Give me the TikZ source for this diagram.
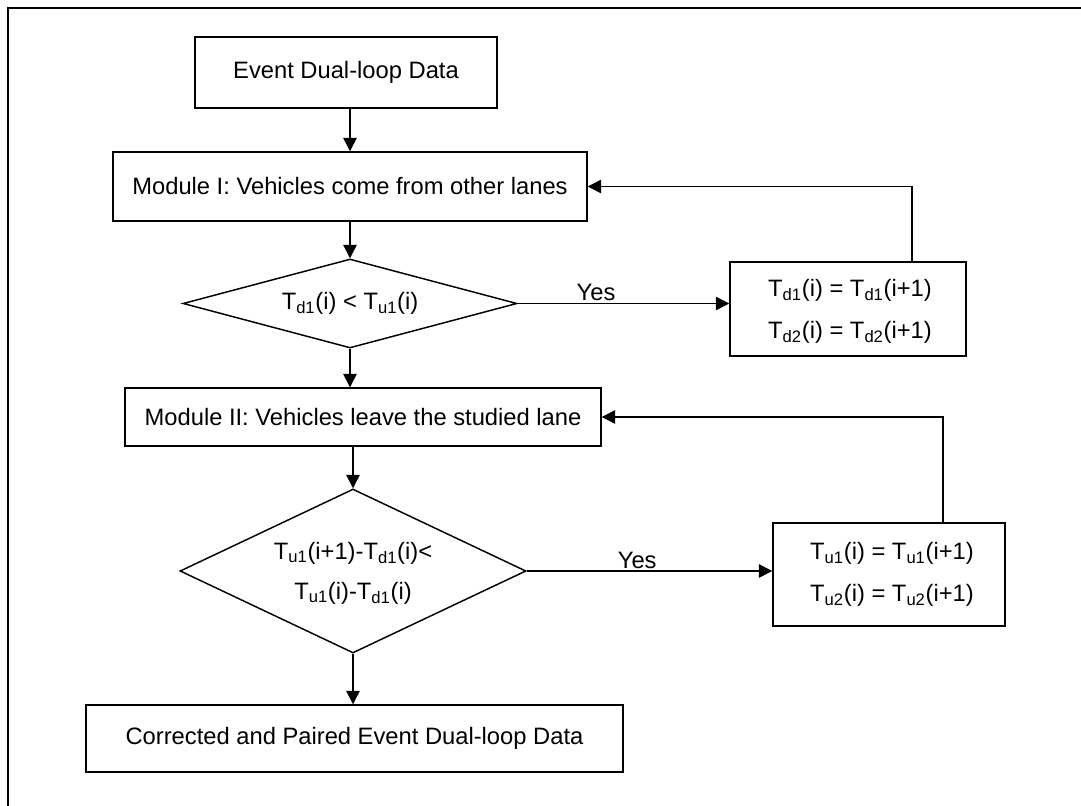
\documentclass[tikz,border=0pt]{standalone}
\usepackage{fontspec}
\setmainfont{Liberation Sans}
\usetikzlibrary{arrows.meta,shapes.geometric}
\begin{document}
\begin{tikzpicture}[x=0.75pt,y=-0.75pt,
  every node/.style={font=\fontsize{17.8}{21}\selectfont},
  box/.style={draw,line width=1.1pt,rectangle,inner sep=0pt,align=center},
  dia/.style={draw,line width=1.1pt,diamond,inner sep=0pt},
  arr/.style={line width=1.1pt,-{Triangle[length=10pt,width=10pt]}},
  ln/.style={line width=1.1pt}]
\useasboundingbox (0,0) rectangle (1081,806);
\begin{scope}
\clip (0,0) rectangle (1081,806);
\draw[line width=1.6pt] (8,8) rectangle (1200,900);
\end{scope}
\node[box,minimum width=302*0.75pt,minimum height=71*0.75pt] (b1) at (346,72.5) {Event Dual-loop Data};
\node[box,minimum width=474*0.75pt,minimum height=69*0.75pt] (b2) at (350,186.5) {Module I: Vehicles come from other lanes};
\node[dia,minimum width=334*0.75pt,minimum height=89*0.75pt,aspect=3.75] (d1) at (350,303.5) {};
\node at (d1.center) {T\textsubscript{d1}(i) < T\textsubscript{u1}(i)};
\node[box,minimum width=236*0.75pt,minimum height=94*0.75pt] (b3) at (848,309) {};
\node at ([xshift=2*0.75pt,yshift=19*0.75pt]b3.center) {T\textsubscript{d1}(i) = T\textsubscript{d1}(i+1)};
\node at ([xshift=2*0.75pt,yshift=-23*0.75pt]b3.center) {T\textsubscript{d2}(i) = T\textsubscript{d2}(i+1)};
\node[box,minimum width=476*0.75pt,minimum height=58*0.75pt] (b4) at (363,417) {Module II: Vehicles leave the studied lane};
\node[dia,minimum width=346*0.75pt,minimum height=164*0.75pt,aspect=2.11] (d2) at (353,571) {};
\node at ([yshift=18*0.75pt]d2.center) {T\textsubscript{u1}(i+1)-T\textsubscript{d1}(i)<};
\node at ([yshift=-22*0.75pt]d2.center) {T\textsubscript{u1}(i)-T\textsubscript{d1}(i)};
\node[box,minimum width=232*0.75pt,minimum height=103*0.75pt] (b5) at (889,574.5) {};
\node at ([xshift=3*0.75pt,yshift=21*0.75pt]b5.center) {T\textsubscript{u1}(i) = T\textsubscript{u1}(i+1)};
\node at ([xshift=3*0.75pt,yshift=-21*0.75pt]b5.center) {T\textsubscript{u2}(i) = T\textsubscript{u2}(i+1)};
\node[box,minimum width=537*0.75pt,minimum height=67*0.75pt] (b6) at (354.5,738.5) {Corrected and Paired Event Dual-loop Data};
\draw[arr] (b1.south -| d1.north) -- (b2.north -| d1.north);
\draw[arr] (b2.south -| d1.north) -- (d1.north);
\draw[arr] (d1.south) -- (d1.south |- b4.north);
\draw[arr] (b4.south -| d2.north) -- (d2.north);
\draw[arr] (d2.south) -- (b6.north -| d2.south);
\draw[arr] (d1.east) -- node[above,pos=0.37,yshift=-2pt] {Yes} (d1.east -| b3.west);
\draw[arr] (d2.east) -- node[above,pos=0.45,yshift=-2pt] {Yes} (d2.east -| b5.west);
\coordinate (f1) at (912,186.5);
\draw[arr] (b3.north -| f1) -- (f1) -- (b2.east);
\coordinate (f2) at (943,417);
\draw[arr] (b5.north -| f2) -- (f2) -- (b4.east);
\end{tikzpicture}
\end{document}
